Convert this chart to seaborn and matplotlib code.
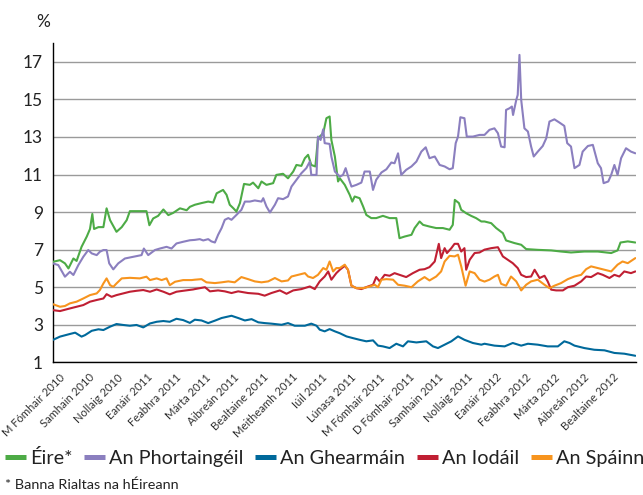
import matplotlib
matplotlib.use("Agg")
import matplotlib.pyplot as plt
import matplotlib.transforms as mtransforms
from matplotlib.lines import Line2D
import numpy as np
import pandas as pd
import seaborn as sns

# ---- x positions are in months since the start of the chart (0 = first tick) ----
eire_t = [0.0, 0.25, 0.42, 0.54, 0.71, 0.82, 0.99, 1.17, 1.28, 1.36, 1.42, 1.57, 1.74, 1.85, 1.97,
          2.19, 2.37, 2.54, 2.65, 2.88, 3.22, 3.32, 3.45, 3.62, 3.80, 3.97, 4.14, 4.37, 4.60, 4.71,
          4.88, 5.11, 5.34, 5.51, 5.63, 5.85, 5.97, 6.08, 6.20, 6.31, 6.43, 6.57, 6.77, 6.88, 7.06,
          7.17, 7.34, 7.57, 7.68, 7.91, 8.08, 8.26, 8.37, 8.54, 8.66, 8.77, 8.88, 9.02, 9.11, 9.29,
          9.40, 9.51, 9.57, 9.69, 9.80, 9.86, 10.03, 10.20, 10.29, 10.37, 10.54, 10.66, 10.77, 10.94,
          11.11, 11.34, 11.57, 11.80, 11.91, 12.09, 12.32, 12.43, 12.60, 12.72, 12.94, 13.17, 13.40,
          13.63, 13.74, 13.81, 13.95, 14.03, 14.20, 14.37, 14.54, 14.72, 14.83, 15.06, 15.23, 15.46,
          15.57, 15.86, 16.09, 16.26, 16.66, 17.12, 17.46, 17.80, 18.26, 18.72, 19.18, 19.40, 19.50,
          19.75, 20.01]
eire_v = [6.35, 6.44, 6.27, 6.0, 6.53, 6.4, 7.15, 7.7, 8.1, 8.9, 8.1, 8.2, 8.2, 9.2, 8.57,
          7.95, 8.2, 8.57, 9.05, 9.05, 9.05, 8.3, 8.66, 8.8, 9.14, 8.84, 8.96, 9.2, 9.1, 9.28,
          9.39, 9.48, 9.56, 9.51, 10.0, 10.18, 9.92, 9.39, 9.21, 9.03, 9.48, 10.5, 10.45, 10.57, 10.27,
          10.63, 10.45, 10.54, 10.98, 11.04, 10.8, 11.16, 11.51, 11.46, 11.87, 12.05, 11.51, 11.43, 12.93, 13.2,
          14.0, 14.09, 12.84, 11.96, 10.63, 10.8, 10.45, 9.92, 9.56, 9.83, 9.74, 9.3, 8.85, 8.68,
          8.68, 8.8, 8.68, 8.68, 7.61, 7.7, 7.79, 8.15, 8.5, 8.32, 8.23, 8.15, 8.15,
          8.06, 8.32, 9.65, 9.48, 9.12, 8.94, 8.8, 8.68, 8.5, 8.5, 8.41, 8.15, 7.88,
          7.49, 7.35, 7.26, 7.03, 6.99, 6.96, 6.9, 6.85, 6.9, 6.9, 6.82, 6.96, 7.38,
          7.44, 7.38]

portugal_t = [0.0, 0.19, 0.42, 0.59, 0.71, 0.88, 1.05, 1.22, 1.34, 1.51, 1.62, 1.74, 1.85, 1.94, 2.08,
              2.25, 2.48, 2.77, 3.05, 3.13, 3.28, 3.51, 3.68, 3.91, 4.08, 4.25, 4.48, 4.71,
              4.88, 5.05, 5.17, 5.34, 5.45, 5.57, 5.68, 5.80, 5.91, 6.03, 6.14, 6.31, 6.48, 6.60, 6.77,
              6.94, 7.17, 7.23, 7.34, 7.46, 7.63, 7.74, 7.91, 8.08, 8.20, 8.37, 8.54, 8.71, 8.83, 8.88,
              9.06, 9.11, 9.20, 9.29, 9.34, 9.51, 9.57, 9.69, 9.86, 9.97, 10.06, 10.18, 10.26, 10.43,
              10.60, 10.71, 10.89, 11.00, 11.11, 11.29, 11.46, 11.63, 11.74, 11.86, 11.97, 12.14, 12.32,
              12.49, 12.66, 12.81, 12.94, 13.12, 13.29, 13.46, 13.63, 13.74, 13.84, 13.92, 14.00, 14.14,
              14.22, 14.43, 14.66, 14.83, 15.00, 15.17, 15.29, 15.40, 15.52, 15.57, 15.69, 15.77, 15.81,
              15.92, 15.97, 16.03, 16.09, 16.20, 16.32, 16.43, 16.52, 16.66, 16.83, 16.95, 17.06, 17.23,
              17.40, 17.57, 17.67, 17.80, 17.92, 18.09, 18.20, 18.38, 18.55, 18.72, 18.83, 18.92, 19.08,
              19.18, 19.29, 19.40, 19.52, 19.69, 19.86, 20.01]
portugal_v = [6.27, 6.18, 5.56, 5.82, 5.65, 6.18, 6.62, 6.98, 6.8, 6.71, 6.89, 6.98, 6.98, 6.27, 5.95,
              6.27, 6.53, 6.62, 6.71, 7.06, 6.71, 6.98, 7.06, 7.15, 7.06, 7.33, 7.42, 7.5,
              7.52, 7.56, 7.49, 7.56, 7.44, 7.38, 7.79, 8.15, 8.59, 8.68, 8.59, 8.85, 9.12, 9.56, 9.56,
              9.62, 9.56, 9.74, 9.3, 8.98, 9.39, 9.74, 9.69, 9.83, 10.36, 10.72, 11.07, 11.34, 11.69, 10.98,
              10.98, 13.02, 12.84, 13.41, 12.67, 12.63, 11.96, 11.16, 10.89, 10.98, 11.34, 10.72, 10.36, 10.45,
              10.57, 11.16, 11.16, 10.18, 10.72, 11.11, 11.28, 11.64, 11.6, 12.13, 10.98, 11.25, 11.43,
              11.69, 12.22, 12.45, 11.87, 11.96, 11.51, 11.43, 11.28, 11.34, 12.67, 13.02, 14.05, 14.0,
              13.02, 13.02, 13.11, 13.11, 13.38, 13.46, 13.2, 12.49, 12.45, 14.44, 14.53, 14.62, 14.17,
              14.97, 15.24, 17.37, 14.97, 13.46, 13.29, 12.49, 11.96, 12.22, 12.52, 12.93, 13.82, 13.94,
              13.77, 13.59, 12.67, 12.49, 11.34, 11.51, 12.22, 12.52, 12.58, 11.6, 11.34, 10.54, 10.63,
              10.98, 11.51, 10.98, 11.87, 12.4, 12.22, 12.13]

germany_t = [0.0, 0.25, 0.59, 0.77, 0.99, 1.11, 1.34, 1.57, 1.74, 1.97, 2.19, 2.42, 2.65, 2.88, 3.11,
             3.34, 3.57, 3.80, 4.02, 4.25, 4.48, 4.71, 4.88, 5.11, 5.34, 5.57, 5.80, 6.14, 6.37, 6.60,
             6.83, 7.06, 7.28, 7.51, 7.86, 8.08, 8.31, 8.66, 8.88, 9.06, 9.17, 9.34, 9.51, 9.69, 9.86,
             10.09, 10.31, 10.54, 10.77, 11.00, 11.17, 11.34, 11.57, 11.80, 12.03, 12.20, 12.49, 12.83,
             13.06, 13.23, 13.46, 13.69, 13.92, 14.14, 14.43, 14.72, 14.83, 15.17, 15.52, 15.80, 16.09,
             16.32, 16.66, 17.00, 17.35, 17.57, 17.75, 17.92, 18.26, 18.60, 18.95, 19.29, 19.63, 20.01]
germany_v = [2.19, 2.37, 2.51, 2.58, 2.37, 2.45, 2.68, 2.76, 2.72, 2.9, 3.04, 2.99, 2.95, 2.99, 2.86,
             3.07, 3.16, 3.2, 3.16, 3.32, 3.25, 3.1, 3.27, 3.23, 3.09, 3.22, 3.36, 3.48, 3.36, 3.23,
             3.3, 3.13, 3.09, 3.06, 3.0, 3.09, 2.95, 2.95, 3.06, 2.95, 2.74, 2.65, 2.77, 2.65, 2.55,
             2.38, 2.29, 2.2, 2.12, 2.17, 1.89, 1.85, 1.76, 1.99, 1.85, 2.12, 2.06, 2.12,
             1.85, 1.76, 1.94, 2.12, 2.38, 2.2, 2.03, 1.94, 1.99, 1.89, 1.85, 2.03, 1.89,
             1.99, 1.94, 1.85, 1.85, 2.12, 2.03, 1.89, 1.76, 1.67, 1.64, 1.5, 1.46, 1.35]

italy_t = [0.0, 0.25, 0.59, 0.82, 1.05, 1.28, 1.51, 1.74, 1.85, 2.02, 2.19, 2.42, 2.65, 2.88, 3.11,
           3.34, 3.57, 3.80, 4.02, 4.25, 4.48, 4.82, 4.88, 5.23, 5.40, 5.68, 5.91, 6.14, 6.37, 6.71,
           7.06, 7.28, 7.51, 7.80, 8.03, 8.26, 8.54, 8.83, 9.00, 9.17, 9.34, 9.46, 9.57, 9.74, 9.86,
           10.03, 10.14, 10.26, 10.43, 10.60, 10.83, 11.00, 11.11, 11.23, 11.40, 11.57, 11.74, 11.91,
           12.14, 12.37, 12.60, 12.77, 12.94, 13.12, 13.26, 13.34, 13.46, 13.54, 13.69, 13.80, 13.92,
           14.03, 14.14, 14.20, 14.32, 14.49, 14.66, 14.83, 15.06, 15.29, 15.46, 15.63, 15.80, 15.97,
           16.09, 16.26, 16.43, 16.55, 16.72, 16.89, 17.00, 17.12, 17.29, 17.52, 17.69, 17.92, 18.15,
           18.32, 18.49, 18.72, 18.89, 19.12, 19.29, 19.46, 19.63, 19.86, 20.01]
italy_v = [3.78, 3.73, 3.87, 3.96, 4.05, 4.23, 4.32, 4.4, 4.63, 4.49, 4.58, 4.67, 4.76, 4.81, 4.85,
           4.76, 4.88, 4.76, 4.62, 4.76, 4.81, 4.88, 4.9, 5.0, 4.78, 4.83, 4.78, 4.69, 4.78, 4.69,
           4.65, 4.55, 4.69, 4.83, 4.65, 4.83, 4.9, 5.04, 4.9, 5.31, 5.57, 5.84, 5.4, 5.75, 5.93,
           6.14, 5.93, 5.08, 4.95, 4.9, 5.04, 5.13, 5.54, 5.31, 5.66, 5.61, 5.75, 5.66,
           5.54, 5.75, 5.93, 5.96, 6.07, 6.37, 7.31, 6.55, 7.08, 6.82, 7.08, 7.31, 7.31,
           6.9, 7.08, 5.93, 6.46, 6.82, 6.85, 7.0, 7.08, 7.13, 6.64, 6.46, 6.28, 6.02,
           5.66, 5.54, 5.57, 5.93, 5.49, 5.61, 5.31, 4.87, 4.83, 4.83, 5.0, 5.08, 5.31,
           5.57, 5.54, 5.75, 5.66, 5.49, 5.66, 5.57, 5.84, 5.75, 5.84]

spain_t = [0.0, 0.25, 0.42, 0.59, 0.82, 1.05, 1.28, 1.51, 1.62, 1.74, 1.85, 1.97, 2.08, 2.19, 2.37,
           2.65, 2.99, 3.22, 3.34, 3.57, 3.74, 3.91, 4.02, 4.20, 4.48, 4.77, 4.88, 5.11, 5.28, 5.57,
           5.80, 6.03, 6.25, 6.48, 6.71, 6.94, 7.17, 7.40, 7.63, 7.86, 8.08, 8.20, 8.43, 8.66, 8.77,
           8.94, 9.11, 9.29, 9.40, 9.51, 9.63, 9.74, 9.86, 10.03, 10.14, 10.26, 10.43, 10.66, 10.89,
           11.06, 11.17, 11.29, 11.46, 11.69, 11.86, 12.09, 12.32, 12.54, 12.77, 12.94, 13.17, 13.34,
           13.46, 13.63, 13.80, 13.92, 14.03, 14.18, 14.32, 14.49, 14.66, 14.83, 15.00, 15.17, 15.29,
           15.40, 15.57, 15.74, 15.92, 16.09, 16.26, 16.43, 16.66, 16.89, 17.06, 17.23, 17.46, 17.69,
           17.92, 18.15, 18.32, 18.49, 18.72, 18.95, 19.18, 19.40, 19.57, 19.75, 20.01]
spain_v = [4.1, 3.96, 4.0, 4.14, 4.23, 4.4, 4.58, 4.67, 4.85, 5.2, 5.47, 5.11, 5.02, 5.2, 5.47,
           5.5, 5.47, 5.56, 5.38, 5.47, 5.38, 5.47, 5.11, 5.29, 5.38, 5.38, 5.4, 5.43, 5.26, 5.22,
           5.26, 5.31, 5.26, 5.54, 5.43, 5.31, 5.26, 5.31, 5.49, 5.31, 5.36, 5.57, 5.66, 5.75, 5.57,
           5.49, 5.66, 6.02, 5.93, 6.37, 5.84, 6.02, 6.02, 6.2, 5.93, 5.08, 4.95, 4.95, 5.04,
           5.13, 5.0, 5.4, 5.43, 5.4, 5.13, 5.08, 5.0, 5.31, 5.54, 5.36, 5.57, 5.84,
           6.37, 6.67, 6.64, 6.73, 6.11, 5.08, 5.84, 5.75, 5.4, 5.3, 5.4, 5.57, 5.66,
           5.18, 5.08, 5.57, 5.31, 4.83, 5.13, 5.31, 5.4, 5.13, 4.95, 5.08, 5.22, 5.43,
           5.57, 5.66, 5.96, 6.11, 6.02, 5.93, 5.84, 6.2, 6.37, 6.28, 6.55]

series_names = ["Éire*", "An Phortaingéil", "An Ghearmáin", "An Iodáil", "An Spáinn"]
series_colors = ["#4dab46", "#8b7fbf", "#00699b", "#c01f33", "#f7941e"]

month_labels = ["M Fómhair 2010", "Samhain 2010", "Nollaig 2010", "Eanáir 2011", "Feabhra 2011",
                "Márta 2011", "Aibreán 2011", "Bealtaine 2011", "Meitheamh 2011", "Iúil 2011",
                "Lúnasa 2011", "M Fómhair 2011", "D Fómhair 2011", "Samhain 2011", "Nollaig 2011",
                "Eanáir 2012", "Feabhra 2012", "Márta 2012", "Aibreán 2012", "Bealtaine 2012"]
y_ticks = [1, 3, 5, 7, 9, 11, 13, 15, 17]
footnote = "* Banna Rialtas na hÉireann"

frames = []
for name, t, v in zip(series_names,
                      [eire_t, portugal_t, germany_t, italy_t, spain_t],
                      [eire_v, portugal_v, germany_v, italy_v, spain_v]):
    frames.append(pd.DataFrame({"t": t, "v": v, "series": name}))
df = pd.concat(frames, ignore_index=True)

sns.set_style("white")
plt.rcParams['font.family'] = ['Lato', 'DejaVu Sans']

fig = plt.figure(figsize=(6.43, 4.95), dpi=100)
ax = fig.add_axes([0.082, 0.268, 0.907, 0.645])

sns.lineplot(data=df, x="t", y="v", hue="series", hue_order=series_names,
             palette=dict(zip(series_names, series_colors)), estimator=None,
             linewidth=1.5, legend=False, ax=ax, zorder=3)

ax.set_xlim(0, 20.03)
ax.set_ylim(1, 18)
ax.set_yticks(y_ticks)
ax.set_yticklabels([str(y) for y in y_ticks], fontsize=12.5)
ax.set_xticks(range(len(month_labels)))
ax.set_xticklabels(month_labels, fontsize=8.1, rotation=45, ha="right",
                   rotation_mode="anchor", va="center")
ax.tick_params(axis="y", length=0, pad=7, labelcolor="#222222")
ax.tick_params(axis="x", length=3, width=1, direction="out", pad=6.5,
               colors="#000000", labelcolor="#333333")
offset = mtransforms.ScaledTranslation(7.5 / 72, 0, fig.dpi_scale_trans)
for lab in ax.get_xticklabels():
    lab.set_transform(lab.get_transform() + offset)

ax.set_xlabel("")
ax.set_ylabel("")
ax.grid(axis="y", color="#9a9a9a", linewidth=1.0)
ax.grid(axis="x", visible=False)
for s in ["top", "right"]:
    ax.spines[s].set_visible(False)
for s in ["left", "bottom"]:
    ax.spines[s].set_color("black")
    ax.spines[s].set_linewidth(1.0)

fig.text(43 / 643, 1 - 22 / 495, "%", fontsize=12.5, ha="center", va="center", color="#222222")

handles = [Line2D([0], [0], color=c, lw=3.6, solid_capstyle="butt") for c in series_colors]
fig.legend(handles, series_names, loc="center left", bbox_to_anchor=(5 / 643, 1 - 458 / 495),
           ncol=5, frameon=False, fontsize=14.3, handlelength=1.05, handletextpad=0.2,
           columnspacing=0.6, borderpad=0, borderaxespad=0, labelcolor="#222222")

fig.text(5 / 643, 1 - 485 / 495, footnote, fontsize=10.4, ha="left", va="center", color="#222222")

fig.savefig("out.png", dpi=100)
